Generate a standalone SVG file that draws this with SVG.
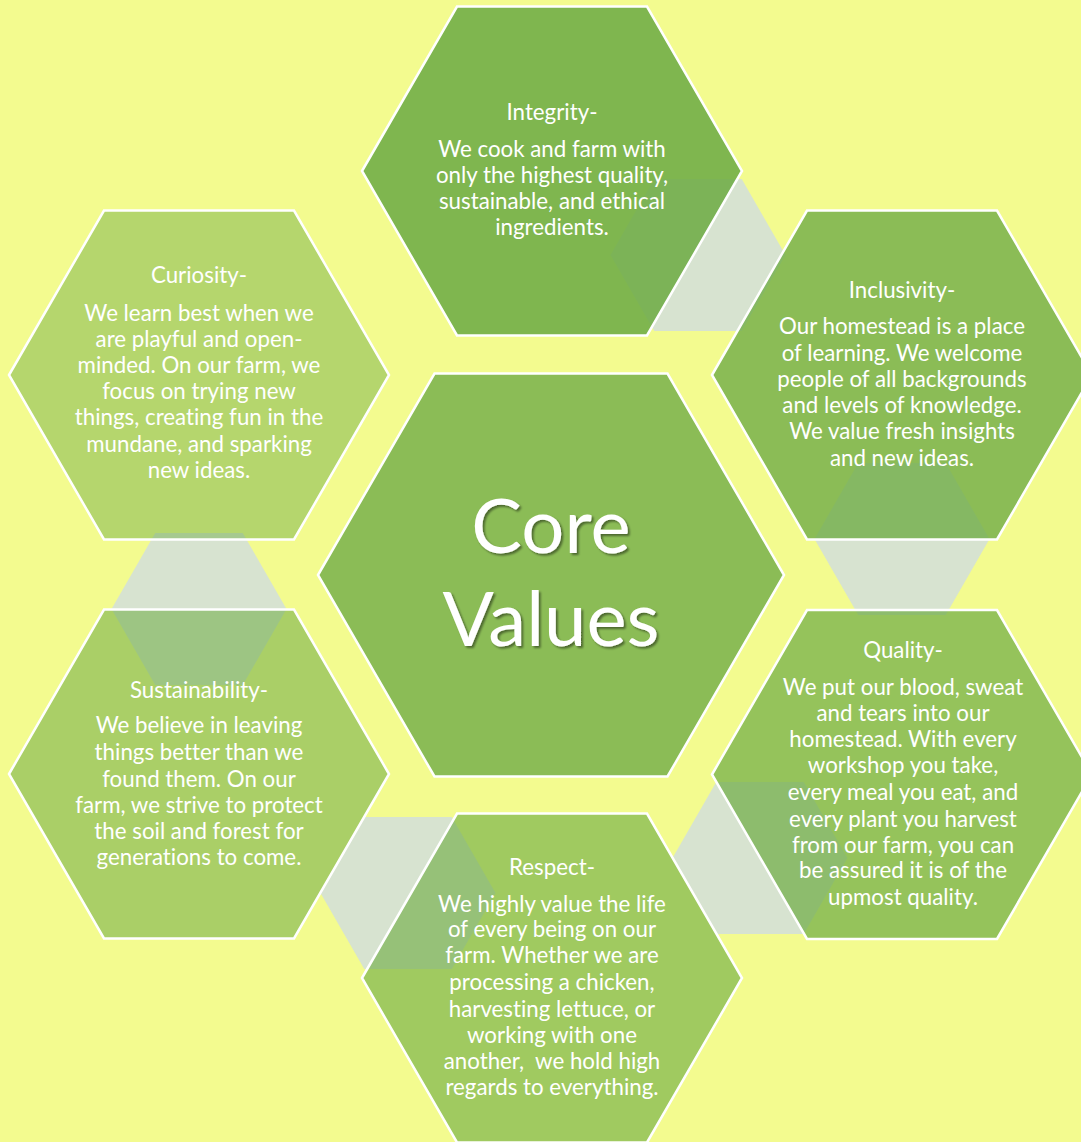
<svg xmlns="http://www.w3.org/2000/svg" xmlns:xlink="http://www.w3.org/1999/xlink" width="1081" height="1142" viewBox="0 0 1081 1142">
<style>
.bg{fill:#F3FB8F}
.conn{fill:#D7E3D0}
.hex{fill:#70AD47;stroke:#FFFFFF;stroke-width:2.5;stroke-linejoin:miter}
.t{font-family:Lato,"Liberation Sans",sans-serif;font-size:22.3px;fill:#FFFFFF;text-anchor:middle;font-variant-ligatures:none}
.core{font-size:76px}
</style>
<defs>
<polygon id="hexO" points="-190,0 -95,-164.5 95,-164.5 190,0 95,164.5 -95,164.5"/>
<polygon id="hexS" points="-87.5,0 -43.75,-76 43.75,-76 87.5,0 43.75,76 -43.75,76"/>
<filter id="shadow" x="-10%" y="-10%" width="130%" height="130%">
<feDropShadow dx="2" dy="2" stdDeviation="1.2" flood-color="#000000" flood-opacity="0.45"/>
</filter>
</defs>
<rect class="bg" x="0" y="0" width="1081" height="1142"/>
<g id="connectors">
<use href="#hexS" class="conn" transform="translate(698,255)"/>
<use href="#hexS" class="conn" transform="translate(902,539)"/>
<use href="#hexS" class="conn" transform="translate(760,858)"/>
<use href="#hexS" class="conn" transform="translate(408,893)"/>
<use href="#hexS" class="conn" transform="translate(199,609)"/>
</g>
<g id="node-center">
<polygon class="hex" fill-opacity="0.8" points="318,575 434.5,373.5 667.5,373.5 784,575 667.5,776.5 434.5,776.5"/>
<g filter="url(#shadow)">
<text class="t core" x="551" y="553">Core</text>
<text class="t core" x="551" y="646">Values</text>
</g>
</g>
<g id="node-integrity">
<use href="#hexO" class="hex" fill-opacity="0.885" transform="translate(552,171)"/>
<text class="t" x="552" y="120">Integrity-</text>
<text class="t" x="552" y="157">We cook and farm with</text>
<text class="t" x="552" y="183">only the highest quality,</text>
<text class="t" x="552" y="209">sustainable, and ethical</text>
<text class="t" x="552" y="235">ingredients.</text>
</g>
<g id="node-inclusivity">
<use href="#hexO" class="hex" fill-opacity="0.8" transform="translate(902,375)"/>
<text class="t" x="902" y="298">Inclusivity-</text>
<text class="t" x="902" y="334">Our homestead is a place</text>
<text class="t" x="902" y="361">of learning. We welcome</text>
<text class="t" x="902" y="387">people of all backgrounds</text>
<text class="t" x="902" y="413">and levels of knowledge.</text>
<text class="t" x="902" y="439">We value fresh insights</text>
<text class="t" x="902" y="466">and new ideas.</text>
</g>
<g id="node-quality">
<use href="#hexO" class="hex" fill-opacity="0.72" transform="translate(902,774.5)"/>
<text class="t" x="903" y="658">Quality-</text>
<text class="t" x="903" y="695">We put our blood, sweat</text>
<text class="t" x="903" y="721">and tears into our</text>
<text class="t" x="903" y="747">homestead. With every</text>
<text class="t" x="903" y="773">workshop you take,</text>
<text class="t" x="903" y="800">every meal you eat, and</text>
<text class="t" x="903" y="827">every plant you harvest</text>
<text class="t" x="903" y="853">from our farm, you can</text>
<text class="t" x="903" y="878">be assured it is of the</text>
<text class="t" x="903" y="905">upmost quality.</text>
</g>
<g id="node-respect">
<use href="#hexO" class="hex" fill-opacity="0.64" transform="translate(552,978)"/>
<text class="t" x="552" y="875">Respect-</text>
<text class="t" x="552" y="912">We highly value the life</text>
<text class="t" x="552" y="937">of every being on our</text>
<text class="t" x="552" y="963">farm. Whether we are</text>
<text class="t" x="552" y="990">processing a chicken,</text>
<text class="t" x="552" y="1017">harvesting lettuce, or</text>
<text class="t" x="552" y="1043">working with one</text>
<text class="t" x="552" y="1069">another,&#160; we hold high</text>
<text class="t" x="552" y="1095">regards to everything.</text>
</g>
<g id="node-sustainability">
<use href="#hexO" class="hex" fill-opacity="0.56" transform="translate(199,774)"/>
<text class="t" x="199" y="698">Sustainability-</text>
<text class="t" x="199" y="733">We believe in leaving</text>
<text class="t" x="199" y="760">things better than we</text>
<text class="t" x="199" y="787">found them. On our</text>
<text class="t" x="199" y="813">farm, we strive to protect</text>
<text class="t" x="199" y="839">the soil and forest for</text>
<text class="t" x="199" y="865">generations to come.</text>
</g>
<g id="node-curiosity">
<use href="#hexO" class="hex" fill-opacity="0.475" transform="translate(199,375)"/>
<text class="t" x="199" y="283">Curiosity-</text>
<text class="t" x="199" y="321">We learn best when we</text>
<text class="t" x="199" y="347">are playful and open-</text>
<text class="t" x="199" y="373">minded. On our farm, we</text>
<text class="t" x="199" y="399">focus on trying new</text>
<text class="t" x="199" y="425">things, creating fun in the</text>
<text class="t" x="199" y="452">mundane, and sparking</text>
<text class="t" x="199" y="478">new ideas.</text>
</g>
</svg>
